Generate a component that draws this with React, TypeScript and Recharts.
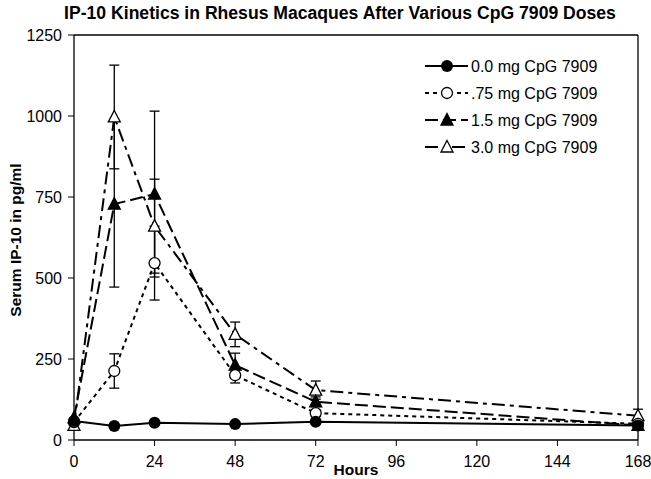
import React from 'react'
import {
  LineChart, Line, XAxis, YAxis, ErrorBar, ReferenceLine, Customized,
} from 'recharts'

/* values */
const hours = [0, 12, 24, 48, 72, 168]
const dose00 = [59, 43, 53, 49, 56, 45]
const dose075 = [55, 213, 546, 200, 83, 50]
const dose075Err = [0, 53, 114, 24, 10, 5]
const dose15 = [68, 728, 759, 231, 118, 45]
const dose15Err = [0, 256, 256, 37, 15, 5]
const dose30 = [45, 997, 660, 326, 154, 75]
const dose30Err = [0, 160, 145, 38, 28, 20]
const xTicks = [0, 24, 48, 72, 96, 120, 144, 168]
const yTicks = [0, 250, 500, 750, 1000, 1250]

const FONT = "Arial, 'Liberation Sans', sans-serif"

const data = hours.map((h, i) => ({
  h,
  d0: dose00[i],
  d1: dose075[i], e1: dose075Err[i],
  d2: dose15[i], e2: dose15Err[i],
  d3: dose30[i], e3: dose30Err[i],
}))

type Mark = 'dot' | 'circle' | 'tri' | 'otri'

const SERIES: { key: string; err?: string; name: string; dash?: string; mark: Mark }[] = [
  { key: 'd3', err: 'e3', name: '3.0 mg CpG 7909', dash: '13 5 4 5', mark: 'otri' },
  { key: 'd2', err: 'e2', name: '1.5 mg CpG 7909', dash: '13 5', mark: 'tri' },
  { key: 'd1', err: 'e1', name: '.75 mg CpG 7909', dash: '4 4', mark: 'circle' },
  { key: 'd0', name: '0.0 mg CpG 7909', mark: 'dot' },
]

function Marker({ cx, cy, mark }: { cx: number; cy: number; mark: Mark }) {
  if (mark === 'dot') return <circle cx={cx} cy={cy} r={6} fill="#000" />
  if (mark === 'circle') return <circle cx={cx} cy={cy} r={5.5} fill="#fff" stroke="#000" strokeWidth={1.3} />
  const pts = `${cx},${cy - 6.5} ${cx + 6},${cy + 5} ${cx - 6},${cy + 5}`
  return <polygon points={pts} fill={mark === 'tri' ? '#000' : '#fff'} stroke="#000" strokeWidth={1.3} />
}

const legendRows: { name: string; dash?: string; mark: Mark }[] = [
  { name: '0.0 mg CpG 7909', mark: 'dot' },
  { name: '.75 mg CpG 7909', dash: '4 4', mark: 'circle' },
  { name: '1.5 mg CpG 7909', dash: '13 5', mark: 'tri' },
  { name: '3.0 mg CpG 7909', dash: '13 5 4 5', mark: 'otri' },
]

// legend drawn straight into the svg so it doesn't steal plot space
function LegendBox() {
  return (
    <g>
      {legendRows.map((r, i) => {
        const y = 66 + i * 27
        return (
          <g key={r.name}>
            <line x1={425} x2={468} y1={y} y2={y} stroke="#000" strokeWidth={2} strokeDasharray={r.dash} />
            <Marker cx={447} cy={y} mark={r.mark} />
            <text x={471} y={y + 6} fontSize={16} fontFamily={FONT} fill="#000">{r.name}</text>
          </g>
        )
      })}
    </g>
  )
}

export default function App() {
  return (
    <div style={{ position: 'absolute', left: 0, top: 0, width: 651, height: 479, background: '#fff' }}>
      <LineChart width={651} height={479} data={data} margin={{ top: 35, right: 13, bottom: 0, left: 0 }}>
        <XAxis
          dataKey="h" type="number" domain={[0, 168]} ticks={xTicks} height={39}
          tick={{ fontSize: 16, fill: '#000', fontFamily: FONT }}
          axisLine={{ stroke: '#000', strokeWidth: 1.3 }} tickLine={{ stroke: '#000' }}
          tickSize={6} tickMargin={10}
        />
        <YAxis
          type="number" domain={[0, 1250]} ticks={yTicks} width={74}
          tick={{ fontSize: 16, fill: '#000', fontFamily: FONT }}
          axisLine={{ stroke: '#000', strokeWidth: 1.3 }} tickLine={{ stroke: '#000' }}
          tickSize={6} tickMargin={6}
        />
        <ReferenceLine y={1250} stroke="#000" strokeWidth={1.3} />
        <ReferenceLine x={168} stroke="#000" strokeWidth={1.3} />
        {SERIES.map(s => (
          <Line
            key={s.key}
            dataKey={s.key}
            name={s.name}
            stroke="#000"
            strokeWidth={2}
            strokeDasharray={s.dash}
            isAnimationActive={false}
            dot={(p: any) => <Marker key={`${s.key}-${p.index}`} cx={p.cx} cy={p.cy} mark={s.mark} />}
          >
            {s.err && <ErrorBar dataKey={s.err} direction="y" width={5} stroke="#000" strokeWidth={1.3} />}
          </Line>
        ))}
        <Customized component={() => <LegendBox />} />
        <Customized
          component={() => (
            <g fontFamily={FONT} fontWeight="bold" fill="#000">
              <text x={340} y={19} fontSize={17.6} textAnchor="middle">
                IP-10 Kinetics in Rhesus Macaques After Various CpG 7909 Doses
              </text>
              <text x={356} y={475} fontSize={15.5} textAnchor="middle">Hours</text>
              <text x={21} y={240} fontSize={15.5} textAnchor="middle" transform="rotate(-90 21 240)">
                Serum IP-10 in pg/ml
              </text>
            </g>
          )}
        />
      </LineChart>
    </div>
  )
}
